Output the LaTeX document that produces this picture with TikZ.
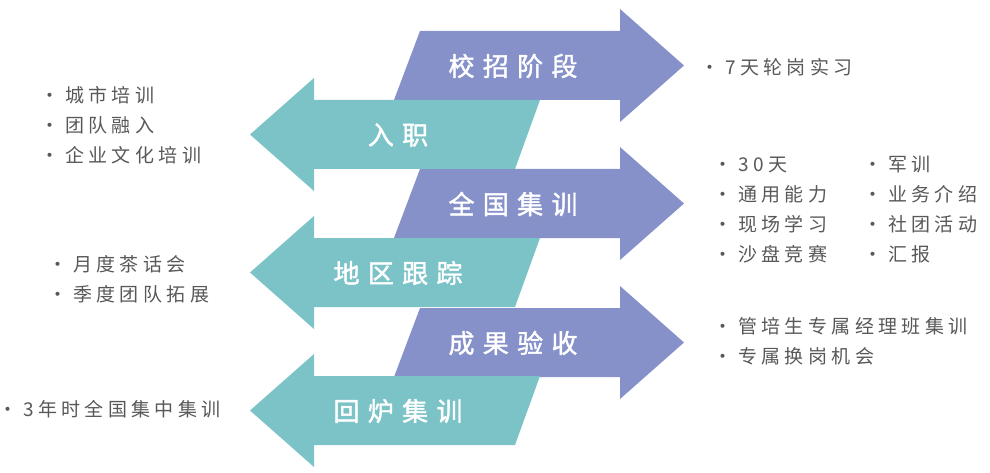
\documentclass[tikz,border=0pt]{standalone}
\usepackage{fontspec}
\usepackage{tikz}
\usetikzlibrary{calc}
\setmainfont{Noto Sans CJK SC}
\newfontfamily\itemfont[LetterSpace=23]{Noto Sans CJK SC}
\newfontfamily\stagefont[LetterSpace=32,FakeBold=1.6]{Noto Sans CJK SC}
\definecolor{campuscolor}{RGB}{134,144,201}
\definecolor{jobcolor}{RGB}{124,195,199}
\definecolor{itemgray}{RGB}{88,88,88}
\newcommand{\bul}{\llap{·\hspace{6pt}}}

\begin{document}
\begin{tikzpicture}[
    x=1pt, y=-1pt,
    rightarrow/.style={fill=campuscolor, draw=none},
    leftarrow/.style={fill=jobcolor, draw=none},
    stage/.style={font=\fontsize{26pt}{30pt}\stagefont, text=white, inner sep=0pt},
    item/.style={font=\fontsize{19pt}{30pt}\itemfont, text=itemgray, inner sep=0pt, align=left, anchor=west}
]
\useasboundingbox (0,0) rectangle (990,473);

% Arrows to the right
\foreach \t/\lbl [count=\i] in {31/校招阶段, 169/全国集训, 308/成果验收} {
    \fill[rightarrow] (420,\t) -- (620,\t) -- (620,\t-22) -- (684,\t+34.5)
        -- (620,\t+91) -- (620,\t+69) -- (394,\t+69) -- cycle;
    \node[stage] (right\i) at (513,\t+35) {\lbl};
}

% Arrows to the left
\foreach \t/\lbl [count=\i] in {100/入职, 238/地区跟踪, 376/回炉集训} {
    \fill[leftarrow] (540,\t) -- (314,\t) -- (314,\t-22) -- (250,\t+34.5)
        -- (314,\t+91) -- (314,\t+69) -- (515,\t+69) -- cycle;
    \node[stage] (left\i) at (398,\t+35) {\lbl};
}

% Notes left
\node[item] (onboard) at (65,125) {\bul 城市培训\\\bul 团队融入\\\bul 企业文化培训};
\node[item] (tracking) at (73,279) {\bul 月度茶话会\\\bul 季度团队拓展};
\node[item] (retrain) at (23,409) {\bul 3年时全国集中集训};

% Notes right
\node[item] (campus) at (725,67) {\bul 7天轮岗实习};
\node[item] (nationalA) at (738,210) {\bul 30天\\\bul 通用能力\\\bul 现场学习\\\bul 沙盘竞赛};
\node[item] (nationalB) at (888,210) {\bul 军训\\\bul 业务介绍\\\bul 社团活动\\\bul 汇报};
\node[item] (review) at (738,341) {\bul 管培生专属经理班集训\\\bul 专属换岗机会};
\end{tikzpicture}
\end{document}
